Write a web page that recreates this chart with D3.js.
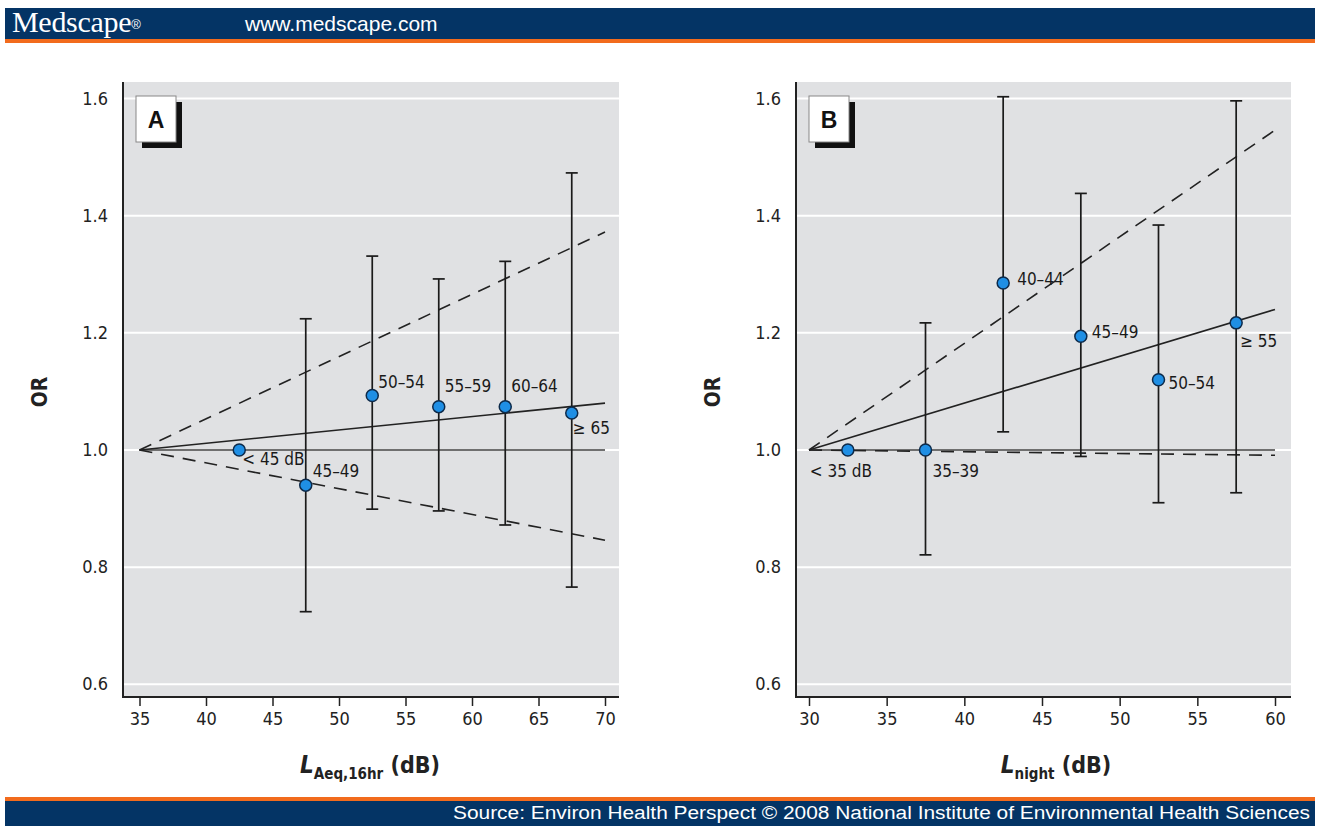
<!DOCTYPE html>
<html>
<head>
<meta charset="utf-8">
<script src="https://cdn.jsdelivr.net/npm/d3@7"></script>
<style>
  body { margin: 0; background: #fff; }
  svg { display: block; }
</style>
</head>
<body>
<div id="chart"></div>
<script>
// values
var yTicks = [0.6, 0.8, 1.0, 1.2, 1.4, 1.6];

var xTicksA = [35, 40, 45, 50, 55, 60, 65, 70];
var groupsA = ["< 45 dB", "45–49", "50–54", "55–59", "60–64", "≥ 65"];
var midA = [42.5, 47.5, 52.5, 57.5, 62.5, 67.5];
var orA = [1.0, 0.94, 1.093, 1.074, 1.074, 1.063];
var loA = [null, 0.724, 0.899, 0.896, 0.872, 0.766];
var hiA = [null, 1.224, 1.331, 1.292, 1.322, 1.473];
var fitXA = [35, 70];
var fitA = [1.0, 1.08];
var ciUpA = [1.0, 1.372];
var ciLoA = [1.0, 0.846];

var xTicksB = [30, 35, 40, 45, 50, 55, 60];
var groupsB = ["< 35 dB", "35–39", "40–44", "45–49", "50–54", "≥ 55"];
var midB = [32.5, 37.5, 42.5, 47.5, 52.5, 57.5];
var orB = [1.0, 1.0, 1.285, 1.194, 1.12, 1.217];
var loB = [null, 0.821, 1.031, 0.989, 0.91, 0.927];
var hiB = [null, 1.217, 1.603, 1.438, 1.384, 1.596];
var fitXB = [30, 60];
var fitB = [1.0, 1.24];
var ciUpB = [1.0, 1.546];
var ciLoB = [1.0, 0.991];

var W = 1320, H = 826;
var NARROW = "'Liberation Sans Narrow', 'DejaVu Sans Condensed', sans-serif";
var SANS = "'Liberation Sans', Arial, sans-serif";

var svg = d3.select("#chart").append("svg")
  .attr("width", W)
  .attr("height", H);

// header / footer bands
svg.append("rect").attr("x", 5).attr("y", 8).attr("width", W - 10).attr("height", 31).attr("fill", "#043465");
svg.append("rect").attr("x", 5).attr("y", 39).attr("width", W - 10).attr("height", 4).attr("fill", "#f26b1d");
var logo = svg.append("text").attr("x", 12).attr("y", 32)
  .attr("font-family", "'Liberation Serif', 'DejaVu Serif', serif")
  .attr("font-size", 30).attr("fill", "#fff").attr("letter-spacing", -0.3);
logo.append("tspan").text("Medscape");
logo.append("tspan").attr("font-family", SANS).attr("font-size", 13).attr("dy", -3)
  .attr("letter-spacing", 0).text("®");
svg.append("text").attr("x", 245).attr("y", 31)
  .attr("font-family", SANS).attr("font-size", 21).attr("fill", "#fff")
  .text("www.medscape.com");

svg.append("rect").attr("x", 5).attr("y", 797).attr("width", W - 10).attr("height", 4).attr("fill", "#f26b1d");
svg.append("rect").attr("x", 5).attr("y", 801).attr("width", W - 10).attr("height", 25).attr("fill", "#043465");
svg.append("text").attr("x", 453).attr("y", 819)
  .attr("font-family", SANS).attr("font-size", 18).attr("fill", "#fff")
  .attr("textLength", 857).attr("lengthAdjust", "spacingAndGlyphs")
  .text("Source: Environ Health Perspect © 2008 National Institute of Environmental Health Sciences");

function drawPanel(p) {
  var x = d3.scaleLinear().domain(p.xdom).range(p.xrange);
  var y = d3.scaleLinear().domain([1.0, 1.6]).range([450, 98.5]);

  var g = svg.append("g");

  g.append("rect")
    .attr("x", p.left).attr("y", 82)
    .attr("width", p.right - p.left).attr("height", 697 - 82)
    .attr("fill", "#e0e1e3");

  // white gridlines
  g.selectAll(".grid").data(yTicks).join("line")
    .attr("x1", p.left).attr("x2", p.right)
    .attr("y1", d => y(d)).attr("y2", d => y(d))
    .attr("stroke", "#fff").attr("stroke-width", 2);

  // reference line OR = 1
  g.append("line")
    .attr("x1", x(p.xdom[0])).attr("x2", x(p.xdom[1]))
    .attr("y1", y(1)).attr("y2", y(1))
    .attr("stroke", "#6f6f6f").attr("stroke-width", 2.2);

  var line = d3.line().x(d => x(d[0])).y(d => y(d[1]));

  [p.ciUp, p.ciLo].forEach(function (ci) {
    g.append("path")
      .datum(p.fitX.map((v, i) => [v, ci[i]]))
      .attr("d", line)
      .attr("fill", "none").attr("stroke", "#222")
      .attr("stroke-width", 1.6).attr("stroke-dasharray", "13,9");
  });

  g.append("path")
    .datum(p.fitX.map((v, i) => [v, p.fit[i]]))
    .attr("d", line)
    .attr("fill", "none").attr("stroke", "#222").attr("stroke-width", 1.6);

  // error bars
  var idx = d3.range(p.mid.length).filter(i => p.lo[i] != null);
  g.selectAll(".bar").data(idx).join("line")
    .attr("x1", i => x(p.mid[i])).attr("x2", i => x(p.mid[i]))
    .attr("y1", i => y(p.lo[i])).attr("y2", i => y(p.hi[i]))
    .attr("stroke", "#1a1a1a").attr("stroke-width", 1.7);
  ["lo", "hi"].forEach(function (k) {
    g.selectAll(".cap" + k).data(idx).join("line")
      .attr("x1", i => x(p.mid[i]) - 6).attr("x2", i => x(p.mid[i]) + 6)
      .attr("y1", i => y(p[k][i])).attr("y2", i => y(p[k][i]))
      .attr("stroke", "#1a1a1a").attr("stroke-width", 1.7);
  });

  // points
  g.selectAll(".pt").data(p.mid).join("circle")
    .attr("cx", d => x(d))
    .attr("cy", (d, i) => y(p.or[i]))
    .attr("r", 6)
    .attr("fill", "#1f8fe5").attr("stroke", "#0d2a4a").attr("stroke-width", 1.5);

  g.selectAll(".lab").data(p.groups).join("text")
    .attr("x", (d, i) => x(p.mid[i]) + p.offs[i][0])
    .attr("y", (d, i) => y(p.or[i]) + p.offs[i][1])
    .attr("font-family", NARROW).attr("font-size", 17).attr("fill", "#1a1a1a")
    .text(d => d);

  // axes
  g.append("line").attr("x1", p.left).attr("x2", p.left).attr("y1", 82).attr("y2", 698)
    .attr("stroke", "#222").attr("stroke-width", 2);
  var xAxis = g.append("g")
    .attr("transform", "translate(0,697)")
    .call(d3.axisBottom(x).tickValues(p.xticks).tickSize(9).tickPadding(6).tickSizeOuter(0));
  xAxis.select(".domain").attr("d", "M" + p.left + ",0H" + p.right)
    .attr("stroke", "#222").attr("stroke-width", 2);
  xAxis.selectAll(".tick line").attr("stroke", "#222").attr("stroke-width", 1.5);
  xAxis.selectAll(".tick text")
    .attr("font-family", NARROW).attr("font-size", 18).attr("fill", "#222");

  g.selectAll(".ylab").data(yTicks).join("text")
    .attr("x", p.left - 15).attr("y", d => y(d) + 6)
    .attr("text-anchor", "end")
    .attr("font-family", NARROW).attr("font-size", 18).attr("fill", "#222")
    .text(d => d.toFixed(1));

  g.append("text")
    .attr("transform", "translate(" + (p.left - 76) + ",392) rotate(-90)")
    .attr("text-anchor", "middle")
    .attr("font-family", NARROW).attr("font-size", 21).attr("font-weight", "bold").attr("fill", "#222")
    .text("OR");

  var t = g.append("text")
    .attr("x", p.titleX).attr("y", 773)
    .attr("text-anchor", "middle")
    .attr("font-family", NARROW).attr("font-weight", "bold").attr("fill", "#222");
  t.append("tspan").attr("font-size", 24).attr("font-style", "italic").text("L");
  t.append("tspan").attr("font-size", 15).attr("dy", 6).text(p.sub);
  t.append("tspan").attr("font-size", 23).attr("dy", -6).text(" (dB)");

  // panel letter with shadow
  g.append("rect").attr("x", p.boxX + 6).attr("y", 102).attr("width", 40).attr("height", 46).attr("fill", "#111");
  g.append("rect").attr("x", p.boxX).attr("y", 96).attr("width", 40).attr("height", 46)
    .attr("fill", "#fff").attr("stroke", "#888").attr("stroke-width", 1);
  g.append("text").attr("x", p.boxX + 20).attr("y", 128)
    .attr("text-anchor", "middle")
    .attr("font-family", SANS).attr("font-weight", "bold").attr("font-size", 23).attr("fill", "#111")
    .text(p.letter);
}

drawPanel({
  letter: "A", sub: "Aeq,16hr", left: 123, right: 619, xdom: [35, 70], xrange: [139.5, 605],
  boxX: 136, titleX: 370, xticks: xTicksA, groups: groupsA, mid: midA, or: orA, lo: loA, hi: hiA,
  fitX: fitXA, fit: fitA, ciUp: ciUpA, ciLo: ciLoA,
  offs: [[3, 15], [7, -8], [6, -8], [6, -15], [6, -15], [1, 21]]
});

drawPanel({
  letter: "B", sub: "night", left: 796, right: 1291, xdom: [30, 60], xrange: [809, 1275],
  boxX: 809, titleX: 1056, xticks: xTicksB, groups: groupsB, mid: midB, or: orB, lo: loB, hi: hiB,
  fitX: fitXB, fit: fitB, ciUp: ciUpB, ciLo: ciLoB,
  offs: [[-38, 27], [7, 27], [14, 2], [11, 2], [10, 9], [4, 24]]
});
</script>
</body>
</html>
